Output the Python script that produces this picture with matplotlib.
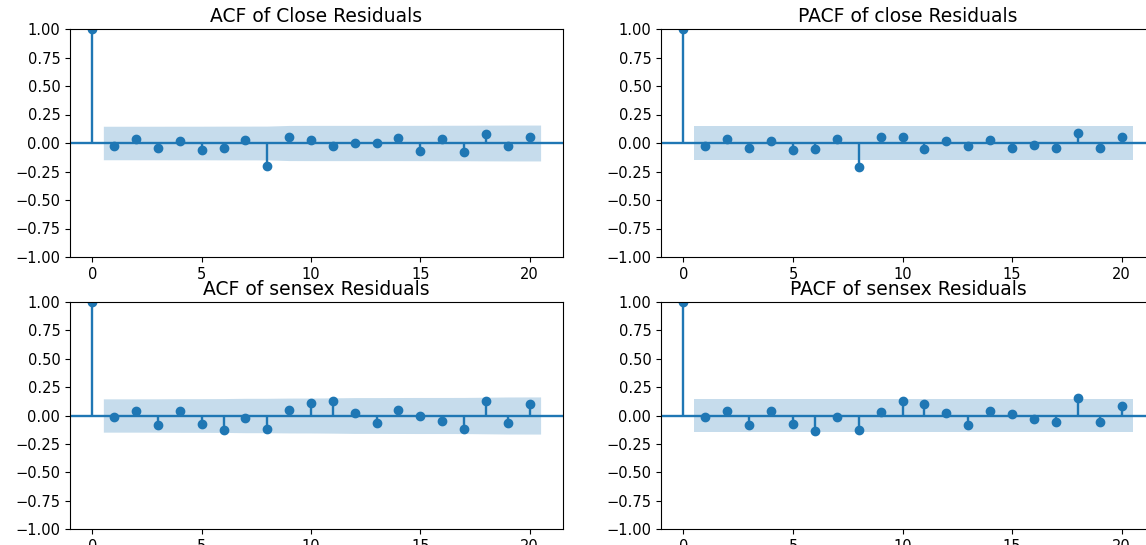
import matplotlib
matplotlib.use("Agg")
import matplotlib.pyplot as plt
import numpy as np

# 数据：滞后阶数 0..20 的自相关 / 偏自相关值
lags = np.arange(0, 21)
n_obs = 178  # 置信带 ±1.96/sqrt(n) ≈ 0.147

acf_close = [1.0, -0.025, 0.035, -0.04, 0.02, -0.06, -0.045, 0.03, -0.20, 0.055, 0.03,
             -0.025, 0.0, 0.0, 0.04, -0.07, 0.035, -0.075, 0.075, -0.03, 0.055]
pacf_close = [1.0, -0.025, 0.035, -0.04, 0.02, -0.06, -0.05, 0.035, -0.21, 0.055, 0.05,
              -0.05, 0.02, -0.025, 0.025, -0.04, -0.02, -0.045, 0.09, -0.04, 0.05]
acf_sensex = [1.0, -0.01, 0.04, -0.085, 0.04, -0.075, -0.125, -0.025, -0.12, 0.045, 0.11,
              0.13, 0.02, -0.065, 0.05, 0.0, -0.045, -0.12, 0.125, -0.065, 0.105]
pacf_sensex = [1.0, -0.01, 0.04, -0.085, 0.04, -0.075, -0.135, -0.01, -0.125, 0.03, 0.13,
               0.105, 0.02, -0.085, 0.04, 0.01, -0.03, -0.06, 0.15, -0.06, 0.08]

titles = ["ACF of Close Residuals", "PACF of close Residuals",
          "ACF of sensex Residuals", "PACF of sensex Residuals"]
y_ticks = [-1.0, -0.75, -0.5, -0.25, 0.0, 0.25, 0.5, 0.75, 1.0]
x_ticks = [0, 5, 10, 15, 20]

plt.rcParams["xtick.labelsize"] = 10.5
plt.rcParams["ytick.labelsize"] = 10.5


def band(values, kind):
    v = np.asarray(values)
    if kind == "acf":
        # Bartlett 公式
        cum = np.concatenate([[0], np.cumsum(v[1:-1] ** 2)])
        se = np.sqrt((1 + 2 * cum) / n_obs)
    else:
        se = np.full(len(v) - 1, 1 / np.sqrt(n_obs))
    return 1.96 * se


def corr_plot(ax, values, kind, title):
    v = np.asarray(values)
    ax.vlines(lags, 0, v, color="C0", linewidth=1.7)
    ax.axhline(0, color="C0", linewidth=1.7)
    ax.plot(lags, v, "o", color="C0", markersize=6)
    ax.margins(0.05)
    x = lags[1:].astype(float)
    x[0] -= 0.5
    x[-1] += 0.5
    hw = band(v, kind)
    ax.fill_between(x, -hw, hw, alpha=0.25, color="C0", linewidth=0)
    ax.set_title(title, fontsize=13.5, pad=5)
    ax.set_ylim(-1, 1)
    ax.set_yticks(y_ticks)
    ax.set_yticklabels([f"{t:.2f}".replace("-", "\u2212") for t in y_ticks])
    ax.set_xticks(x_ticks)


fig = plt.figure(figsize=(11.46, 5.45), dpi=100)
W, H = 1146, 545
# 像素位置 (左, 上, 宽, 高)
boxes = [(70, 29, 493, 228), (661, 29, 494, 228),
         (70, 302, 493, 227), (661, 302, 494, 227)]
series = [(acf_close, "acf"), (pacf_close, "pacf"),
          (acf_sensex, "acf"), (pacf_sensex, "pacf")]

for (l, t, w, h), (vals, kind), title in zip(boxes, series, titles):
    ax = fig.add_axes([l / W, 1 - (t + h) / H, w / W, h / H])
    corr_plot(ax, vals, kind, title)

fig.savefig("out.png", dpi=100)
